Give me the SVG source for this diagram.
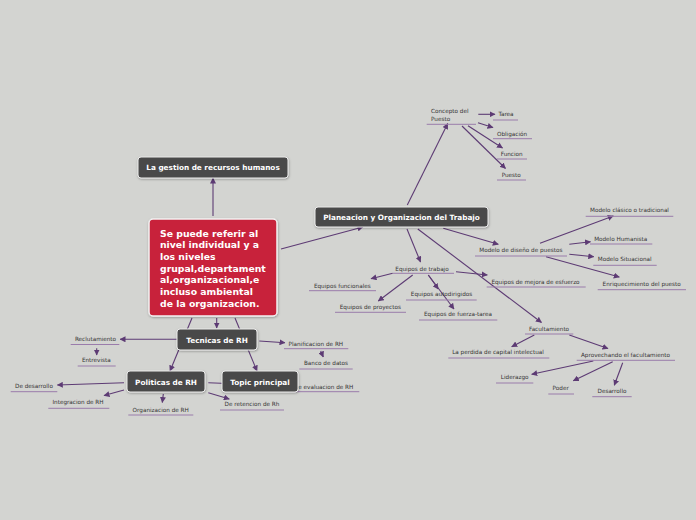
<svg xmlns="http://www.w3.org/2000/svg" width="696" height="520" viewBox="0 0 696 520">
<defs>
<marker id="ah" markerWidth="6" markerHeight="6" refX="5.5" refY="3" orient="auto" markerUnits="userSpaceOnUse">
<path d="M0,0 L6,3 L0,6 z" fill="#5d3b74"/>
</marker>
<filter id="sh" x="-10%" y="-20%" width="120%" height="150%">
<feDropShadow dx="0.5" dy="1" stdDeviation="0.8" flood-color="#000" flood-opacity="0.3"/>
</filter>
<style>
.c{stroke:#5d3b74;stroke-width:1.1;fill:none}
.a{marker-end:url(#ah)}
.u{stroke:#9a7cab;stroke-width:1}
.t{font-family:"DejaVu Sans",Verdana,sans-serif;font-size:5.7px;fill:#333;text-anchor:middle}
.n rect{fill:#4a4a48;stroke:#ececec;stroke-width:1;filter:url(#sh)}
.n text{font-family:"DejaVu Sans",Verdana,sans-serif;font-weight:bold;fill:#fff;text-anchor:middle}
.ctr rect{fill:#c8203a;stroke:#f2f2f2;stroke-width:1.5;filter:url(#sh)}
.ctr text{font-family:"DejaVu Sans",Verdana,sans-serif;font-weight:bold;font-size:9.3px;fill:#fff}
</style>
</defs>
<rect width="696" height="520" fill="#d3d4d1"/>
<g id="connectors">
<line class="c a" x1="213" y1="216" x2="213" y2="178"/>
<line class="c a" x1="281" y1="249" x2="363" y2="227"/>
<line class="c a" x1="216.7" y1="318" x2="216.7" y2="328"/>
<line class="c a" x1="192" y1="318" x2="170" y2="371"/>
<line class="c a" x1="235" y1="318" x2="257" y2="371"/>
<line class="c a" x1="177" y1="339.3" x2="120" y2="339.3"/>
<line class="c a" x1="96.7" y1="348.3" x2="96.7" y2="355"/>
<line class="c a" x1="259.3" y1="341" x2="285" y2="342.7"/>
<line class="c a" x1="320.7" y1="351" x2="323.3" y2="357"/>
<line class="c a" x1="124" y1="382.7" x2="57.3" y2="385"/>
<line class="c a" x1="124" y1="390" x2="104" y2="395.5"/>
<line class="c a" x1="163.3" y1="394" x2="162.3" y2="402.5"/>
<line class="c a" x1="208.3" y1="392.7" x2="229.3" y2="399"/>
<line class="c a" x1="208.3" y1="382.7" x2="240" y2="384"/>
<line class="c a" x1="407.3" y1="205" x2="447.7" y2="123.5"/>
<line class="c a" x1="478.3" y1="114.3" x2="495" y2="114.3"/>
<line class="c a" x1="478" y1="122.7" x2="493" y2="127.5"/>
<line class="c a" x1="468" y1="125.7" x2="502.5" y2="148"/>
<line class="c a" x1="462" y1="126" x2="505.5" y2="168.5"/>
<line class="c a" x1="407" y1="229" x2="420.5" y2="262"/>
<line class="c a" x1="392.7" y1="273.3" x2="371" y2="278.7"/>
<line class="c a" x1="412.7" y1="275" x2="378.3" y2="301"/>
<line class="c a" x1="428.3" y1="275" x2="438.3" y2="289"/>
<line class="c a" x1="428.3" y1="275" x2="454" y2="309"/>
<line class="c a" x1="456" y1="271.7" x2="487.3" y2="275"/>
<line class="c a" x1="443.3" y1="228.3" x2="498.3" y2="244.3"/>
<line class="c a" x1="540" y1="243.3" x2="613.3" y2="216"/>
<line class="c a" x1="569.3" y1="244.3" x2="590.5" y2="241.7"/>
<line class="c a" x1="569.3" y1="254.3" x2="593.8" y2="256.7"/>
<line class="c a" x1="546" y1="256.7" x2="619.3" y2="277"/>
<line class="c a" x1="417.8" y1="229" x2="541.5" y2="322.5"/>
<line class="c a" x1="534.3" y1="335" x2="511.7" y2="346.7"/>
<line class="c a" x1="569.3" y1="335" x2="608" y2="348.5"/>
<line class="c a" x1="593.3" y1="361" x2="531.7" y2="374.3"/>
<line class="c a" x1="612.7" y1="361.7" x2="573.3" y2="380.7"/>
<line class="c a" x1="622.7" y1="362.7" x2="614.3" y2="385.3"/>
</g>
<g id="reclutamiento"><text class="t" x="95.5" y="341">Reclutamiento</text><line class="u" x1="70.7" y1="344.5" x2="119.3" y2="344.5"/></g>
<g id="entrevista"><text class="t" x="96.3" y="362">Entrevista</text><line class="u" x1="77.7" y1="366" x2="115.7" y2="366"/></g>
<g id="planificacion"><text class="t" x="315.8" y="345.5">Planificacion de RH</text><line class="u" x1="284" y1="348.7" x2="348.3" y2="348.7"/></g>
<g id="banco"><text class="t" x="326" y="365">Banco de datos</text><line class="u" x1="299.3" y1="369" x2="352.7" y2="369"/></g>
<g id="de-desarrollo"><text class="t" x="34" y="388">De desarrollo</text><line class="u" x1="10.7" y1="391.7" x2="57.3" y2="391.7"/></g>
<g id="integracion"><text class="t" x="78" y="404">Integracion de RH</text><line class="u" x1="48.3" y1="408.3" x2="109.3" y2="408.3"/></g>
<g id="organizacion"><text class="t" x="160.7" y="411.5">Organizacion de RH</text><line class="u" x1="128.3" y1="415" x2="193.3" y2="415"/></g>
<g id="retencion"><text class="t" x="252" y="406">De retencion de Rh</text><line class="u" x1="220" y1="410" x2="284" y2="410"/></g>
<g id="evaluacion"><text class="t" x="353.3" y="389" style="text-anchor:end">De evaluacion de RH</text><line class="u" x1="289.3" y1="391.7" x2="359.3" y2="391.7"/></g>
<g id="concepto"><text class="t" x="431" y="113" style="text-anchor:start">Concepto del</text><text class="t" x="431" y="121" style="text-anchor:start">Puesto</text><line class="u" x1="426.7" y1="124.3" x2="476" y2="124.3"/></g>
<g id="tarea"><text class="t" x="506" y="116">Tarea</text><line class="u" x1="493" y1="120" x2="518" y2="120"/></g>
<g id="obligacion"><text class="t" x="512" y="135.5">Obligación</text><line class="u" x1="493" y1="138.7" x2="532" y2="138.7"/></g>
<g id="funcion"><text class="t" x="511.7" y="155.5">Funcion</text><line class="u" x1="497" y1="159" x2="527" y2="159"/></g>
<g id="puesto"><text class="t" x="511.2" y="176.5">Puesto</text><line class="u" x1="497" y1="180" x2="526" y2="180"/></g>
<g id="equipos-trabajo"><text class="t" x="422" y="270.5">Equipos de trabajo</text><line class="u" x1="393" y1="273.3" x2="454" y2="273.3"/></g>
<g id="equipos-funcionales"><text class="t" x="342.3" y="287.5">Equipos funcionales</text><line class="u" x1="309" y1="290.7" x2="376" y2="290.7"/></g>
<g id="equipos-proyectos"><text class="t" x="370.3" y="308.5">Equipos de proyectos</text><line class="u" x1="335" y1="312.3" x2="406" y2="312.3"/></g>
<g id="equipos-autodirigidos"><text class="t" x="441.5" y="296">Equipos autodirigidos</text><line class="u" x1="406" y1="300" x2="476.7" y2="300"/></g>
<g id="equipos-fuerza"><text class="t" x="458" y="316">Equipos de fuerza-tarea</text><line class="u" x1="419" y1="320" x2="497.3" y2="320"/></g>
<g id="equipos-mejora"><text class="t" x="535.5" y="283.5">Equipos de mejora de esfuerzo</text><line class="u" x1="486.7" y1="287" x2="585.7" y2="287"/></g>
<g id="modelo-diseno"><text class="t" x="520.8" y="252">Modelo de diseño de puestos</text><line class="u" x1="475" y1="256" x2="567" y2="256"/></g>
<g id="modelo-clasico"><text class="t" x="629.5" y="212.3">Modelo clásico o tradicional</text><line class="u" x1="585.7" y1="216.3" x2="673.3" y2="216.3"/></g>
<g id="modelo-humanista"><text class="t" x="620.7" y="240.5">Modelo Humanista</text><line class="u" x1="590" y1="244" x2="652.3" y2="244"/></g>
<g id="modelo-situacional"><text class="t" x="624.7" y="261">Modelo Situacional</text><line class="u" x1="593.3" y1="265.3" x2="656.7" y2="265.3"/></g>
<g id="enriquecimiento"><text class="t" x="641.7" y="285.5">Enriquecimiento del puesto</text><line class="u" x1="597.7" y1="289.7" x2="686" y2="289.7"/></g>
<g id="facultamiento"><text class="t" x="549" y="330.5">Facultamiento</text><line class="u" x1="525" y1="334" x2="573.3" y2="334"/></g>
<g id="perdida"><text class="t" x="498" y="354">La perdida de capital intelectual</text><line class="u" x1="448.3" y1="358" x2="549.3" y2="358"/></g>
<g id="aprovechando"><text class="t" x="625.5" y="356.5">Aprovechando el facultamiento</text><line class="u" x1="576.7" y1="360.3" x2="675" y2="360.3"/></g>
<g id="liderazgo"><text class="t" x="514.7" y="379">Liderazgo</text><line class="u" x1="496" y1="383" x2="533.3" y2="383"/></g>
<g id="poder"><text class="t" x="560.7" y="390">Poder</text><line class="u" x1="548.3" y1="394" x2="574" y2="394"/></g>
<g id="desarrollo"><text class="t" x="612" y="393">Desarrollo</text><line class="u" x1="592.3" y1="396.7" x2="631.7" y2="396.7"/></g>
<g id="central" class="ctr">
<rect x="149" y="219" width="128" height="97" rx="4"/>
<text x="160" y="236.7">Se puede referir al</text>
<text x="160" y="248.4">nivel individual y a</text>
<text x="160" y="260">los niveles</text>
<text x="160" y="271.7">grupal,departament</text>
<text x="160" y="283.4">al,organizacional,e</text>
<text x="160" y="295">incluso ambiental</text>
<text x="160" y="306.7">de la organizacion.</text>
</g>
<g id="gestion" class="n"><rect x="138" y="157" width="150" height="21" rx="3"/><text x="213" y="170.3" font-size="7.3">La gestion de recursos humanos</text></g>
<g id="planeacion" class="n"><rect x="315" y="207" width="173" height="20" rx="3"/><text x="401.5" y="219.8" font-size="7.3">Planeacion y Organizacion del Trabajo</text></g>
<g id="tecnicas" class="n"><rect x="177" y="329" width="80" height="21" rx="3"/><text x="217" y="342.5" font-size="7.3">Tecnicas de RH</text></g>
<g id="politicas" class="n"><rect x="127" y="371" width="78" height="21" rx="3"/><text x="166" y="384.5" font-size="7.3">Politicas de RH</text></g>
<g id="topic" class="n"><rect x="222" y="371" width="76" height="21" rx="3"/><text x="260" y="384.5" font-size="7.3">Topic principal</text></g>
</svg>
